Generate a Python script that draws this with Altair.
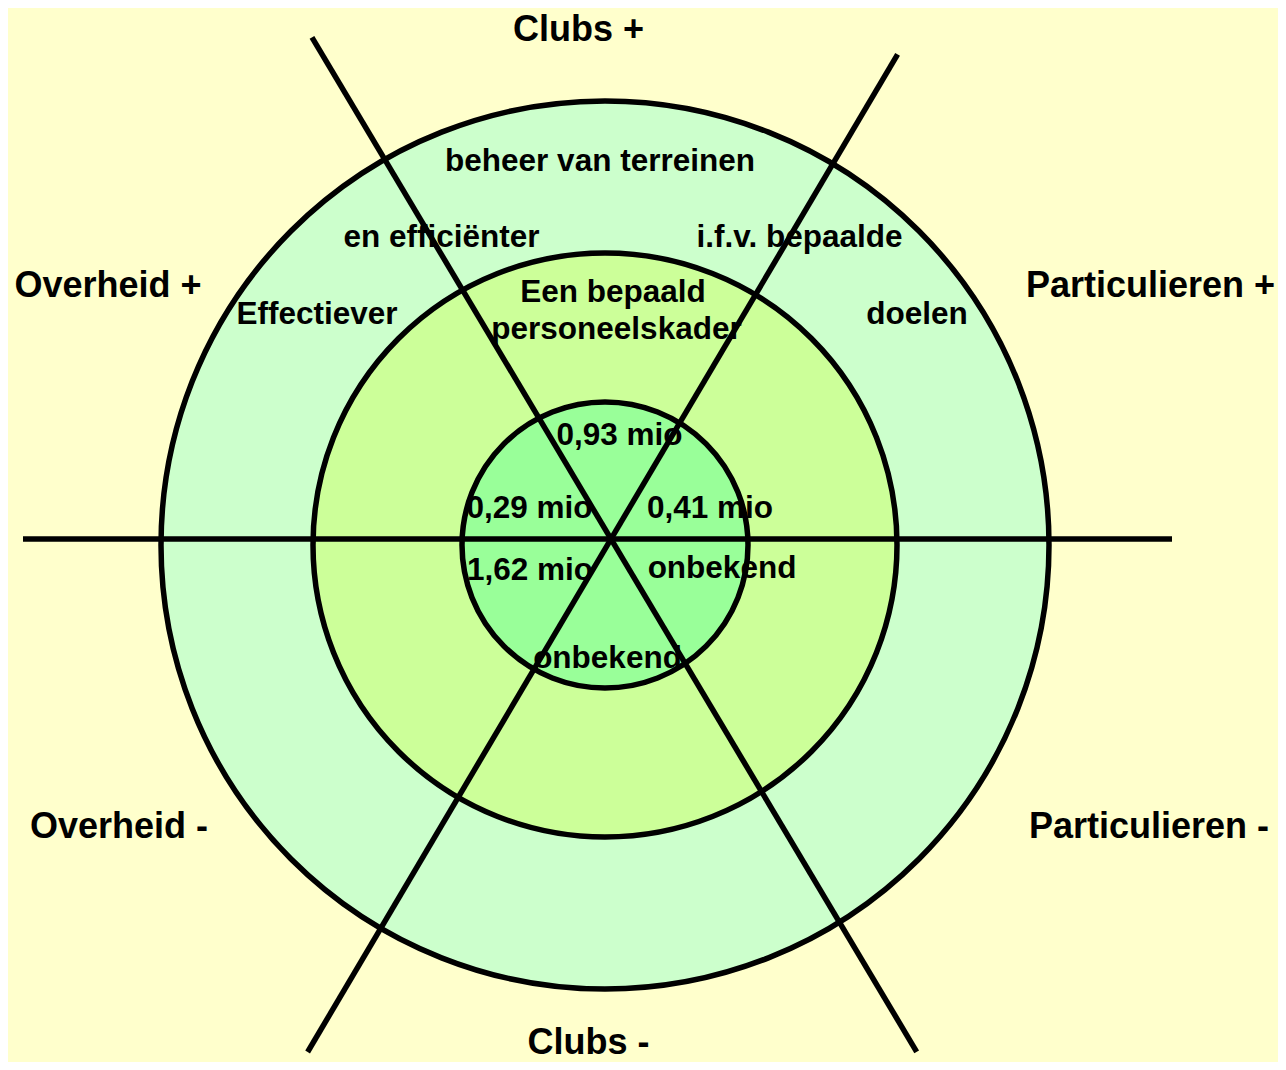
import math
import altair as alt
import pandas as pd

# ---------------- content ----------------
ring_levels = [3, 2, 1]                      # outer -> inner
ring_fills = ["#CCFFCC", "#CCFF99", "#99FF99"]

spoke_angles = [0.0, 59.4, 120.8]           # direction of each dividing line (degrees)
spoke_reach_pos = [561, 563, 584]           # reach towards the angle
spoke_reach_neg = [588, 596, 597]           # reach opposite to the angle

axis_labels = ["Clubs +", "Overheid +", "Particulieren +",
               "Overheid -", "Particulieren -", "Clubs -"]
ring_labels = ["beheer van terreinen", "en efficiënter", "i.f.v. bepaalde",
               "Effectiever", "doelen", "Een bepaald", "personeelskader"]
core_labels = ["0,93 mio", "0,29 mio", "0,41 mio", "1,62 mio",
               "onbekend", "onbekend"]

# ---------------- layout (diagram units, origin = circle centre, y up) ----------------
axis_pos_x = [-26.5, -497, 545.5, -486, 544, -16.5]
axis_pos_y = [504, 248, 248, -293, -293, -509]
ring_pos_x = [-5, -163.5, 194.5, -288, 312, 8, 11.5]
ring_pos_y = [374, 298, 298, 221, 221, 243, 206]
core_pos_x = [14.5, -75.5, 105, -75, 117, 2.5]
core_pos_y = [100, 27, 27, -35, -33, -123]

W, H = 1270, 1054
CX, CY = 597, 537              # circle centre inside the plot area
SPOKE_OFF = (6, 6)             # crossing point of the lines relative to circle centre

xscale = alt.Scale(domain=[-CX, W - CX], nice=False, zero=False)
yscale = alt.Scale(domain=[CY - H, CY], nice=False, zero=False)
rscale = alt.Scale(type="linear", domain=[0, 1, 2, 3], range=[0, 143, 292, 444], zero=True)

FONT = "Liberation Sans"

layers = []

# rings
for lvl, fill in zip(ring_levels, ring_fills):
    layers.append(
        alt.Chart(pd.DataFrame({"level": [lvl]}))
        .mark_arc(theta=0, theta2=2 * math.pi, fill=fill, stroke="black", strokeWidth=5.5)
        .encode(
            x=alt.X(datum=0, scale=xscale, axis=None),
            y=alt.Y(datum=0, scale=yscale, axis=None),
            radius=alt.Radius("level:Q", scale=rscale),
        )
    )

# spokes
rows = []
for a, p, n in zip(spoke_angles, spoke_reach_pos, spoke_reach_neg):
    r = math.radians(a)
    rows.append({
        "x": SPOKE_OFF[0] + p * math.cos(r), "y": SPOKE_OFF[1] + p * math.sin(r),
        "x2": SPOKE_OFF[0] - n * math.cos(r), "y2": SPOKE_OFF[1] - n * math.sin(r),
    })
spokes = pd.DataFrame(rows)
layers.append(
    alt.Chart(spokes)
    .mark_rule(color="black", strokeWidth=5.5, strokeCap="butt")
    .encode(
        x=alt.X("x:Q", scale=xscale, axis=None),
        y=alt.Y("y:Q", scale=yscale, axis=None),
        x2="x2:Q",
        y2="y2:Q",
    )
)


def text_layer(labels, xs, ys, size):
    df = pd.DataFrame({"label": labels, "x": xs, "y": ys})
    return (
        alt.Chart(df)
        .mark_text(font=FONT, fontWeight="bold", fontSize=size, align="center",
                   baseline="alphabetic", color="black")
        .encode(
            x=alt.X("x:Q", scale=xscale, axis=None),
            y=alt.Y("y:Q", scale=yscale, axis=None),
            text="label:N",
        )
    )


layers.append(text_layer(axis_labels, axis_pos_x, axis_pos_y, 36))
layers.append(text_layer(ring_labels, ring_pos_x, ring_pos_y, 31.5))
layers.append(text_layer(core_labels, core_pos_x, core_pos_y, 31.5))

chart = (
    alt.layer(*layers)
    .properties(width=W, height=H, padding=0, background="#FFFFCC",
                autosize=alt.AutoSizeParams(type="none"))
    .configure_view(stroke=None, fill="#FFFFCC")
)

chart.save("out.html", embed_options={"renderer": "svg", "actions": False})
